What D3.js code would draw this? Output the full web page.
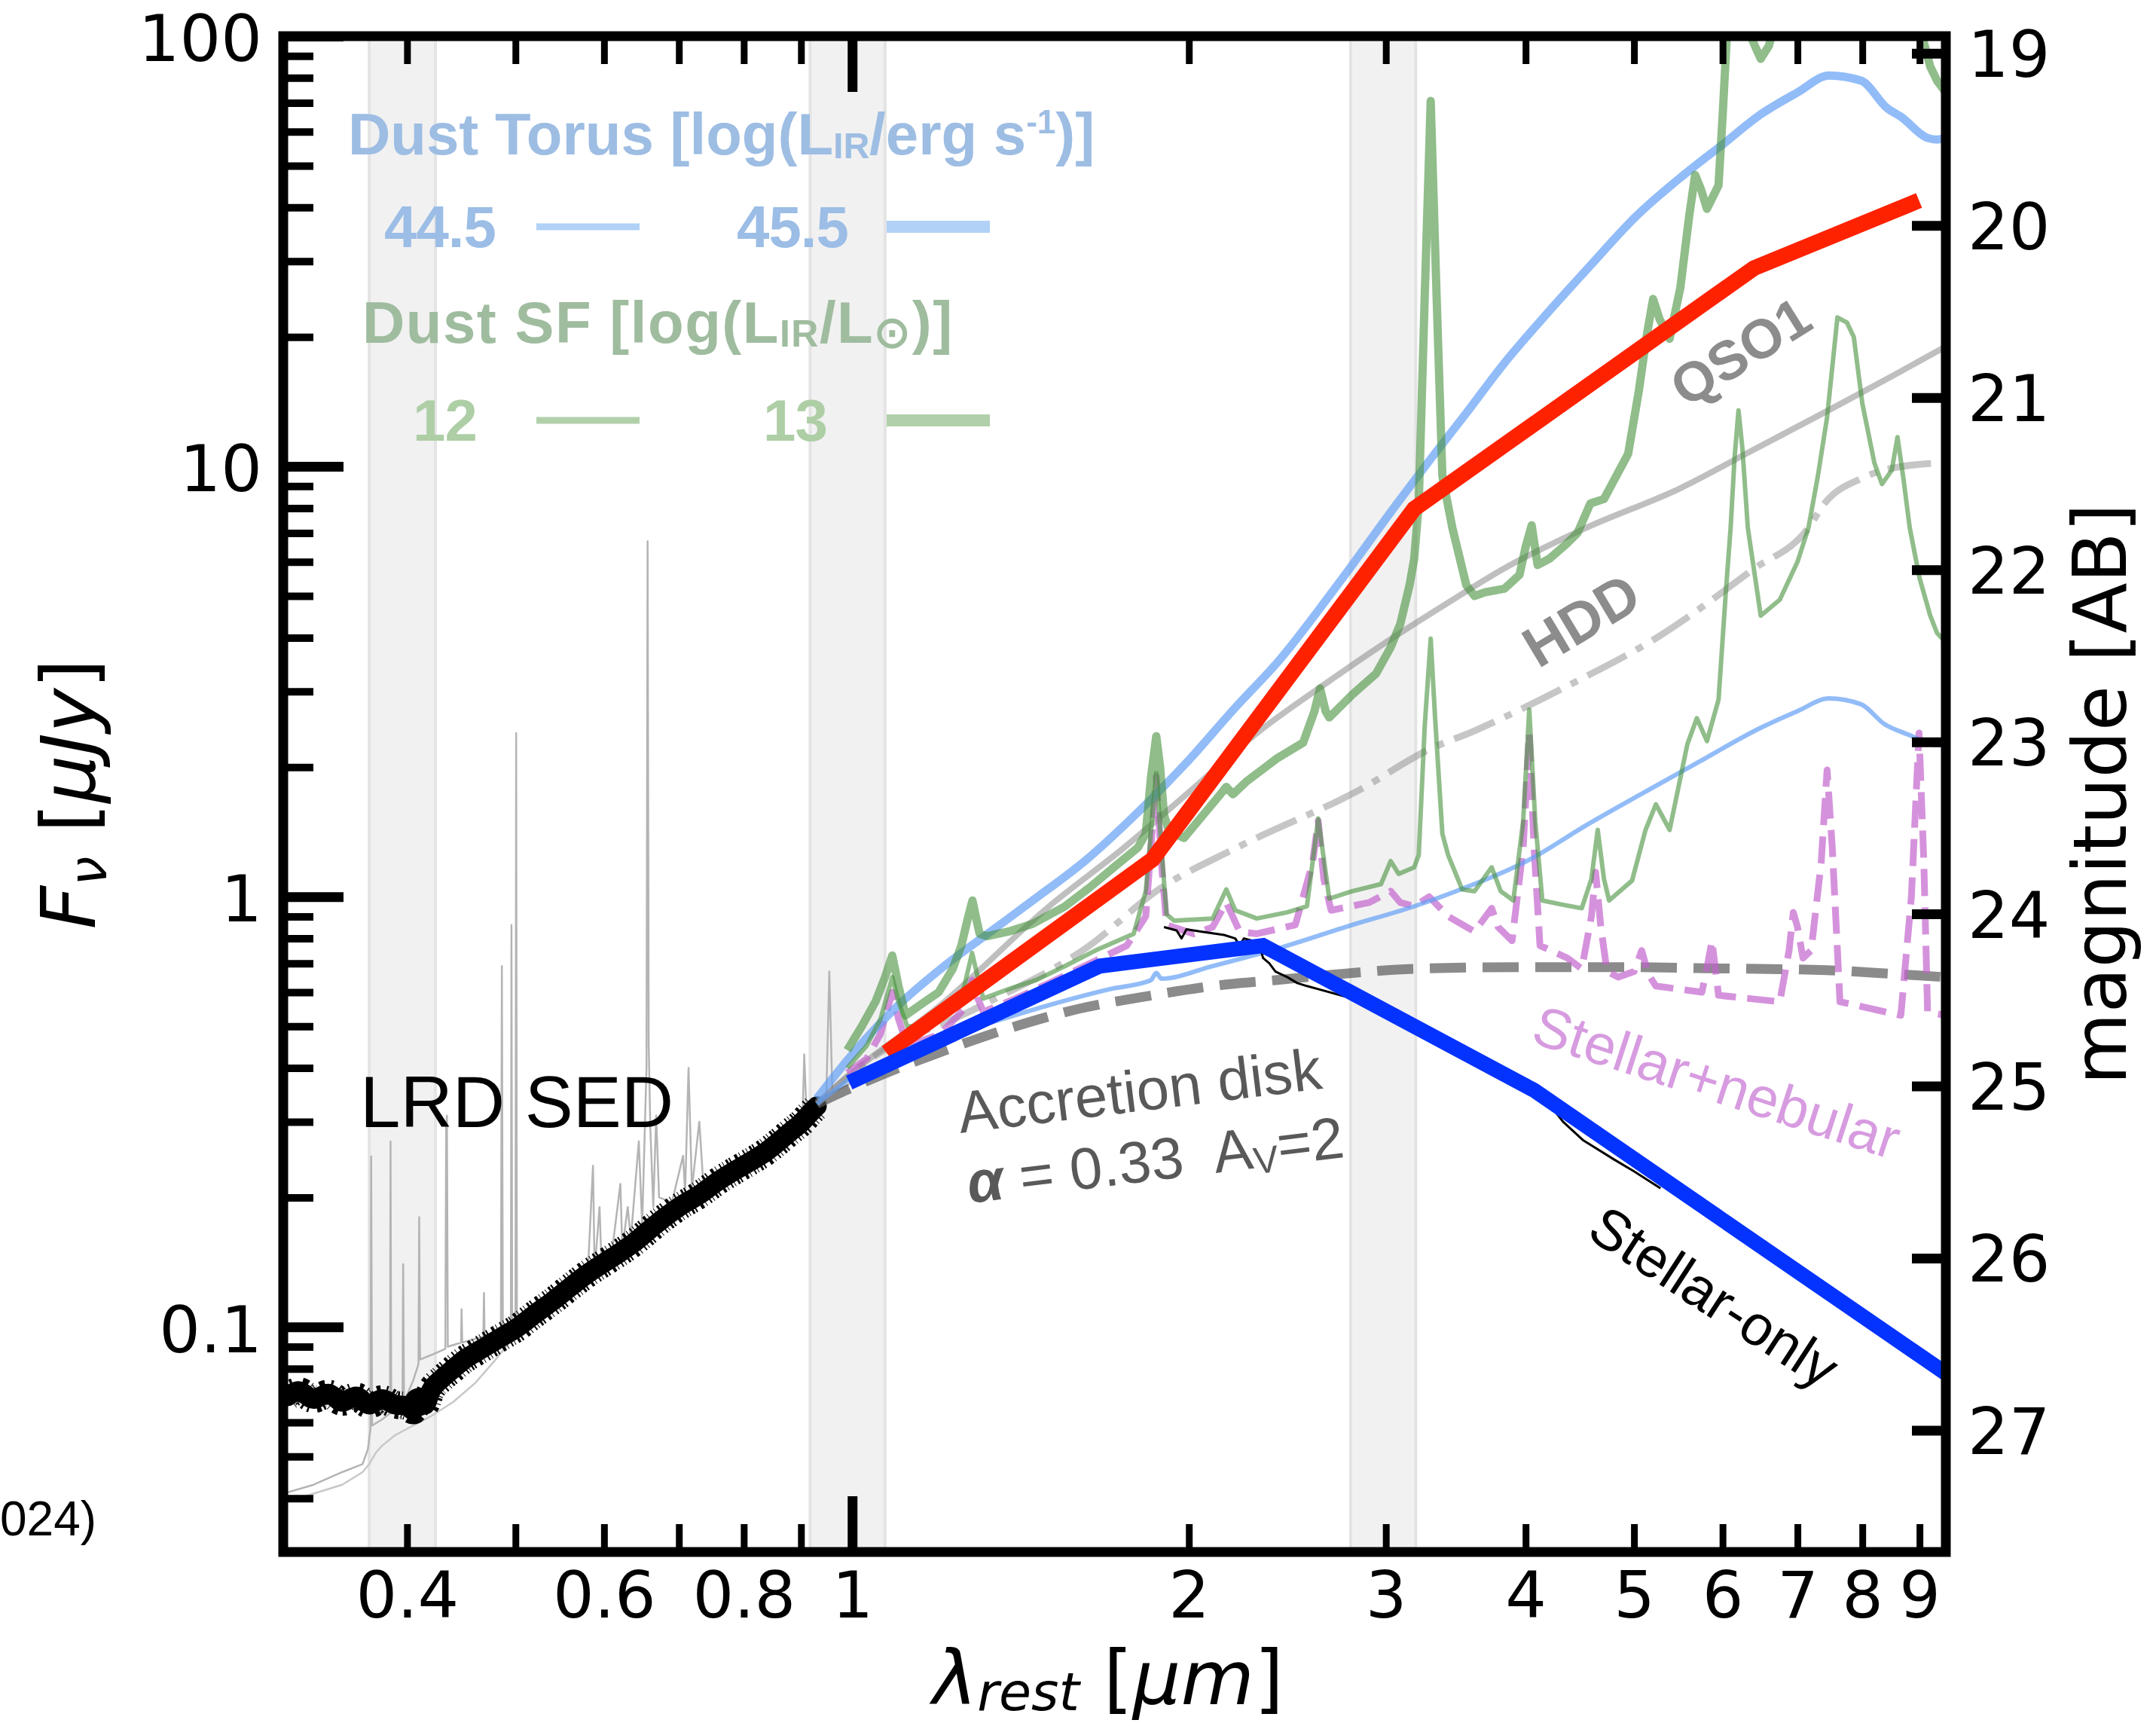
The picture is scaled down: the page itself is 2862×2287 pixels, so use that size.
<!DOCTYPE html>
<html>
<head>
<meta charset="utf-8">
<script src="https://cdn.jsdelivr.net/npm/d3@7"></script>
<style>
  body { margin: 0; background: #fff; }
  svg { display: block; }
</style>
</head>
<body>
<svg id="chart" width="2862" height="2287"></svg>
<script>
// ---------------------------------------------------------------
// Spectral energy distribution of a little red dot (LRD) compared
// with several model templates.  Every series is [lambda_um, Fnu_uJy].
// ---------------------------------------------------------------

// observed LRD spectrum (rest-frame optical)
const lrdSpectrum = [
  [0.313,0.069],[0.32,0.071],[0.33,0.068],[0.34,0.070],[0.35,0.067],[0.36,0.069],
  [0.37,0.066],[0.38,0.068],[0.39,0.066],[0.40,0.0655],[0.405,0.064],[0.41,0.067],
  [0.415,0.066],[0.42,0.071],[0.43,0.076],[0.44,0.080],[0.45,0.084],[0.46,0.087],
  [0.47,0.090],[0.48,0.093],[0.49,0.096],[0.50,0.099],[0.52,0.107],[0.54,0.115],
  [0.56,0.124],[0.58,0.133],[0.60,0.141],[0.62,0.149],[0.64,0.158],[0.66,0.169],
  [0.68,0.180],[0.70,0.190],[0.73,0.203],[0.76,0.219],[0.79,0.233],[0.81,0.242],
  [0.835,0.254],[0.86,0.270],[0.88,0.284],[0.90,0.298],[0.92,0.317],[0.93,0.326]
];

// comparison spectra (thin grey)
const graySpecLines = [
  [0.31,0.041],[0.33,0.043],[0.35,0.046],[0.365,0.048],[0.369,0.052],[0.371,0.058],
  [0.3715,0.249],[0.3722,0.059],[0.38,0.061],[0.3862,0.063],[0.3866,0.27],[0.3872,0.064],
  [0.3962,0.066],[0.3968,0.14],[0.3975,0.067],[0.405,0.075],[0.4095,0.082],[0.4101,0.18],
  [0.4108,0.084],[0.42,0.086],[0.4328,0.089],[0.4335,0.29],[0.4342,0.31],[0.4350,0.09],
  [0.4470,0.092],[0.4475,0.11],[0.4481,0.092],[0.468,0.095],[0.4686,0.12],[0.4692,0.096],
  [0.4852,0.097],[0.4862,0.69],[0.4872,0.098],[0.4953,0.099],[0.4959,0.86],[0.4966,0.100],
  [0.5000,0.100],[0.5007,2.4],[0.5015,0.101],[0.53,0.108],[0.56,0.120],[0.58,0.130],
  [0.5865,0.237],[0.5885,0.135],[0.5945,0.19],[0.597,0.138],[0.61,0.150],[0.6205,0.215],
  [0.623,0.152],[0.630,0.19],[0.634,0.160],[0.6445,0.27],[0.649,0.172],[0.6548,0.40],
  [0.6563,6.7],[0.6578,0.45],[0.6600,0.29],[0.664,0.19],[0.668,0.31],[0.672,0.20],
  [0.69,0.195],[0.706,0.25],[0.709,0.205],[0.714,0.40],[0.719,0.21],[0.730,0.30],
  [0.736,0.215],[0.78,0.235],[0.83,0.26],[0.88,0.29],[0.903,0.31],[0.906,0.43],
  [0.910,0.32],[0.948,0.34],[0.954,0.67],[0.960,0.35],[1.0,0.37],[1.083,0.42]
];
const graySpecSmooth = [
  [0.31,0.039],[0.33,0.041],[0.35,0.043],[0.365,0.046],[0.37,0.048],[0.375,0.051],
  [0.38,0.053],[0.39,0.056],[0.40,0.058],[0.41,0.060],[0.42,0.062],[0.44,0.067],
  [0.46,0.074],[0.48,0.084],[0.50,0.096],[0.55,0.118],[0.60,0.140],[0.70,0.186],
  [0.80,0.236],[0.90,0.300],[0.95,0.335]
];

// observed rest-frame near-IR continuum
const stellarData = [
  [1.90,0.85],[1.95,0.835],[1.97,0.80],[1.99,0.84],[2.05,0.83],[2.15,0.815],
  [2.20,0.80],[2.22,0.77],[2.24,0.80],[2.28,0.79],[2.31,0.78],[2.33,0.72],
  [2.36,0.70],[2.39,0.67],[2.42,0.66],[2.45,0.65],[2.50,0.63],[2.55,0.62],
  [2.61,0.61],[2.80,0.58],[3.00,0.53],[3.50,0.43],[4.00,0.365],[4.20,0.33],
  [4.32,0.300],[4.50,0.272],[4.80,0.245],[5.00,0.230],[5.28,0.210]
];

// accretion disk, alpha = 0.33, Av = 2
const accretionDisk = [
  [0.93,0.33],[0.99,0.356],[1.10,0.40],[1.195,0.434],[1.40,0.50],[1.60,0.55],
  [1.855,0.59],[2.10,0.62],[2.39,0.64],[2.80,0.665],[3.18,0.68],[4.00,0.686],
  [5.00,0.686],[5.80,0.682],[7.43,0.675],[8.50,0.662],[9.50,0.65]
];

// type-1 QSO template
const qso1 = [
  [0.93,0.33],[1.00,0.39],[1.20,0.56],[1.50,0.95],[1.75,1.30],[2.00,1.75],
  [2.30,2.40],[2.66,3.15],[3.00,3.90],[3.40,4.80],[3.83,5.80],[4.53,7.20],
  [5.50,8.90],[6.38,10.9],[7.50,13.6],[8.50,16.2],[9.50,19.0]
];

// hot-dust-deficient QSO template
const hdd = [
  [0.93,0.33],[1.025,0.41],[1.29,0.55],[1.63,0.77],[1.87,1.03],[2.22,1.31],
  [2.84,1.77],[3.28,2.20],[3.60,2.43],[4.36,3.09],[5.28,4.05],[6.38,5.75],
  [7.16,7.20],[7.40,8.20],[8.00,9.40],[8.60,9.96],[9.50,10.2]
];

// stellar + nebular emission
const stellarNebular = [
  [0.99,0.39],[1.03,0.42],[1.06,0.48],[1.086,0.60],[1.10,0.52],[1.12,0.45],
  [1.20,0.48],[1.26,0.55],[1.28,0.64],[1.295,0.58],[1.31,0.54],[1.40,0.58],
  [1.50,0.63],[1.65,0.71],[1.76,0.77],[1.83,0.90],[1.87,1.90],[1.89,1.20],
  [1.91,0.86],[2.02,0.82],[2.10,0.85],[2.16,0.97],[2.22,0.83],[2.30,0.82],
  [2.49,0.86],[2.58,1.20],[2.61,1.50],[2.64,1.10],[2.68,0.93],[2.90,0.97],
  [3.03,1.03],[3.09,0.97],[3.18,0.95],[3.28,1.00],[3.41,0.90],[3.60,0.83],
  [3.73,0.94],[3.78,0.85],[3.89,0.79],[3.98,1.30],[4.03,2.40],[4.07,1.30],
  [4.12,0.77],[4.36,0.72],[4.49,0.68],[4.58,0.90],[4.62,1.14],[4.67,0.85],
  [4.73,0.67],[4.84,0.65],[5.00,0.67],[5.08,0.75],[5.15,0.66],[5.23,0.62],
  [5.75,0.60],[5.82,0.70],[5.87,0.79],[5.92,0.66],[5.95,0.59],[6.75,0.57],
  [6.88,0.75],[6.94,0.92],[7.00,0.85],[7.08,0.72],[7.20,0.75],[7.35,1.20],
  [7.44,1.97],[7.52,1.30],[7.64,0.57],[8.66,0.53],[8.85,1.00],[8.99,2.40],
  [9.08,1.20],[9.15,0.54],[9.50,0.53]
];

// dusty torus, log(L_IR / erg s^-1) = 44.5 and 45.5
const torus445 = [
  [0.93,0.33],[1.00,0.38],[1.10,0.43],[1.20,0.47],[1.33,0.51],[1.50,0.56],
  [1.70,0.61],[1.85,0.64],[1.87,0.665],[1.89,0.645],[2.10,0.69],[2.41,0.76],
  [2.80,0.86],[3.18,0.95],[3.50,1.04],[4.08,1.24],[4.50,1.45],[5.03,1.71],
  [5.70,2.05],[6.49,2.47],[7.00,2.70],[7.47,2.89],[7.98,2.80],[8.37,2.52],
  [8.80,2.38],[9.33,2.25],[9.50,2.25]
];
const torus455 = [
  [0.93,0.34],[1.00,0.43],[1.10,0.56],[1.20,0.68],[1.33,0.83],[1.45,0.98],
  [1.62,1.22],[1.80,1.57],[1.98,2.02],[2.20,2.75],[2.41,3.55],[2.70,5.20],
  [3.07,8.20],[3.28,10.3],[3.54,13.3],[3.83,17.4],[4.08,21.1],[4.57,29.3],
  [5.03,38.3],[5.54,47.6],[6.00,56.0],[6.49,65.8],[7.00,74.0],[7.47,81.0],
  [7.98,78.8],[8.42,68.0],[8.66,65.0],[9.15,58.0],[9.33,57.5],[9.50,58.0]
];

// star-forming dust, log(L_IR / Lsun) = 12 and 13
const dustSF12 = [
  [0.99,0.40],[1.03,0.45],[1.06,0.52],[1.086,0.65],[1.10,0.57],[1.12,0.50],
  [1.16,0.50],[1.20,0.52],[1.25,0.57],[1.28,0.74],[1.295,0.65],[1.31,0.58],
  [1.38,0.61],[1.46,0.64],[1.55,0.69],[1.65,0.75],[1.785,0.82],[1.83,1.03],
  [1.87,1.94],[1.89,1.30],[1.91,0.91],[1.94,0.88],[2.10,0.89],[2.16,1.04],
  [2.20,0.93],[2.30,0.89],[2.45,0.92],[2.55,0.95],[2.61,1.52],[2.67,0.99],
  [2.80,1.03],[2.97,1.07],[3.03,1.21],[3.08,1.13],[3.18,1.17],[3.21,1.25],
  [3.25,2.50],[3.29,3.98],[3.32,2.60],[3.37,1.40],[3.41,1.25],[3.51,1.04],
  [3.60,1.03],[3.73,1.17],[3.80,1.03],[3.90,0.98],[3.98,1.50],[4.03,2.72],
  [4.08,1.50],[4.14,0.98],[4.30,0.96],[4.49,0.94],[4.58,1.10],[4.64,1.43],
  [4.70,1.10],[4.75,0.98],[4.98,1.09],[5.12,1.43],[5.23,1.64],[5.38,1.43],
  [5.58,2.26],[5.69,2.60],[5.81,2.30],[5.95,2.87],[6.04,5.10],[6.10,7.20],
  [6.15,10.5],[6.20,13.5],[6.25,11.0],[6.32,7.20],[6.49,4.50],[6.75,4.90],
  [7.00,6.00],[7.16,7.20],[7.30,9.50],[7.44,13.0],[7.60,22.2],[7.75,21.6],
  [7.86,20.0],[8.00,14.0],[8.20,10.2],[8.33,9.10],[8.50,9.80],[8.60,11.7],
  [8.70,9.50],[8.82,7.20],[9.00,5.50],[9.20,4.50],[9.33,4.10],[9.50,3.90]
];
const dustSF13 = [
  [0.99,0.44],[1.02,0.50],[1.049,0.57],[1.07,0.65],[1.086,0.73],[1.10,0.62],
  [1.116,0.53],[1.15,0.56],[1.195,0.60],[1.23,0.68],[1.252,0.77],[1.27,0.90],
  [1.281,0.98],[1.292,0.88],[1.30,0.82],[1.32,0.81],[1.38,0.83],[1.45,0.865],
  [1.55,0.95],[1.63,1.05],[1.72,1.18],[1.80,1.30],[1.83,1.40],[1.85,1.90],
  [1.87,2.36],[1.885,2.00],[1.90,1.55],[1.92,1.42],[1.98,1.37],[2.06,1.55],
  [2.13,1.72],[2.16,1.80],[2.19,1.73],[2.25,1.85],[2.40,2.10],[2.53,2.28],
  [2.59,2.70],[2.62,3.05],[2.65,2.70],[2.67,2.61],[2.80,2.95],[2.94,3.30],
  [3.03,3.80],[3.09,4.30],[3.15,5.30],[3.18,6.10],[3.21,8.20],[3.25,25.0],
  [3.29,70.7],[3.33,25.0],[3.37,9.50],[3.44,7.20],[3.54,5.30],[3.60,5.00],
  [3.68,5.10],[3.83,5.20],[3.95,5.60],[4.00,6.50],[4.05,7.30],[4.10,5.90],
  [4.20,6.10],[4.35,6.60],[4.45,7.00],[4.57,8.20],[4.70,8.40],[4.94,10.7],
  [5.05,15.0],[5.13,20.0],[5.20,24.5],[5.27,22.0],[5.38,19.8],[5.50,26.0],
  [5.60,38.0],[5.67,47.6],[5.74,44.0],[5.81,39.7],[5.95,45.0],[6.00,65.0],
  [6.05,97.8],[6.12,140],[6.20,160],[6.30,130],[6.38,97.8],[6.49,88.6],
  [6.60,95.0],[6.67,105],[7.00,140],[7.70,250],[8.40,200],[8.80,150],
  [9.07,97.8],[9.20,85.0],[9.33,78.8],[9.50,74.0]
];

// best-fitting composite models (photometric nodes)
const redModel = [[1.073,0.434],[1.855,1.22],[3.18,7.97],[6.40,28.9],[8.99,41.5]];
const stellarOnly = [[0.994,0.37],[1.665,0.69],[2.33,0.77],[4.07,0.355],[9.50,0.078]];

// wavelength windows shaded in grey
const shadedBands = [[0.37,0.424],[0.917,1.07],[2.79,3.19]];

// axis ticks
const xTickValues = [0.4,0.5,0.6,0.7,0.8,0.9,1,2,3,4,5,6,7,8,9];
const xTickLabels = ["0.4","","0.6","","0.8","","1","2","3","4","5","6","7","8","9"];
const xMajorTicks = [1];
const yMajorTicks = [0.1,1,10,100];
const yMinorTicks = [0.04,0.05,0.06,0.07,0.08,0.09,0.2,0.3,0.4,0.5,0.6,0.7,0.8,0.9,
                     2,3,4,5,6,7,8,9,20,30,40,50,60,70,80,90];
const yTickLabels = ["0.1","1","10","100"];
const magTicks = [19,20,21,22,23,24,25,26,27];

// ---------------------------------------------------------------
const svg = d3.select("#chart");
const P = {left: 376, top: 48, right: 2583, bottom: 2060};

const x = d3.scaleLog().domain([0.31, 9.5]).range([P.left, P.right]);
const y = d3.scaleLog().domain([0.03, 100]).range([P.bottom, P.top]);
const abMag = f => 23.9 - 2.5 * Math.log10(f);
const yMag = d3.scaleLinear().domain([abMag(100), abMag(0.03)]).range([P.top, P.bottom]);

svg.append("rect").attr("width", 2862).attr("height", 2287).attr("fill", "#fff");

svg.append("defs").append("clipPath").attr("id", "plotClip")
  .append("rect").attr("x", P.left).attr("y", P.top)
  .attr("width", P.right - P.left).attr("height", P.bottom - P.top);

const plot = svg.append("g").attr("clip-path", "url(#plotClip)");

// shaded windows
const bands = plot.append("g");
shadedBands.forEach(([a, b]) => {
  bands.append("rect").attr("x", x(a)).attr("y", P.top)
    .attr("width", x(b) - x(a)).attr("height", P.bottom - P.top)
    .attr("fill", "#f1f1f1");
  [a, b].forEach(v => bands.append("line")
    .attr("x1", x(v)).attr("x2", x(v)).attr("y1", P.top).attr("y2", P.bottom)
    .attr("stroke", "#e4e4e4").attr("stroke-width", 4));
});

const line = d3.line().x(d => x(d[0])).y(d => y(d[1]));
const smooth = d3.line().x(d => x(d[0])).y(d => y(d[1])).curve(d3.curveMonotoneX);

function draw(data, gen, style) {
  const p = plot.append("path").datum(data).attr("d", gen).attr("fill", "none")
    .attr("stroke-linejoin", "round");
  Object.entries(style).forEach(([k, v]) => p.attr(k, v));
  return p;
}

// comparison spectra
draw(graySpecSmooth, line, {stroke: "#c8c8c8", "stroke-width": 2.5});
draw(graySpecLines, line, {stroke: "#b4b4b4", "stroke-width": 2.5});

// LRD spectrum: solid core plus a ragged edge
draw(lrdSpectrum, smooth, {stroke: "#000", "stroke-width": 26, "stroke-linecap": "round"});
draw(lrdSpectrum, smooth, {stroke: "#000", "stroke-width": 37,
  "stroke-dasharray": "1 4 3 2 2 6 4 3 1 5 2 3"});

// templates
draw(accretionDisk, smooth, {stroke: "rgba(90,90,90,0.7)", "stroke-width": 13, "stroke-dasharray": "48 22"});
draw(qso1, smooth, {stroke: "rgba(128,128,128,0.5)", "stroke-width": 8});
draw(hdd, smooth, {stroke: "rgba(128,128,128,0.45)", "stroke-width": 9, "stroke-dasharray": "58 15 10 15"});
draw(stellarNebular, line, {stroke: "rgba(195,100,205,0.7)", "stroke-width": 9, "stroke-dasharray": "36 15"});
draw(torus445, smooth, {stroke: "rgba(100,160,245,0.7)", "stroke-width": 6});
draw(torus455, smooth, {stroke: "rgba(100,160,245,0.7)", "stroke-width": 11});
draw(dustSF12, line, {stroke: "rgba(70,145,60,0.6)", "stroke-width": 6});
draw(dustSF13, line, {stroke: "rgba(70,145,60,0.6)", "stroke-width": 11});
draw(stellarData, line, {stroke: "#000", "stroke-width": 3});

draw(redModel, line, {stroke: "#ff2200", "stroke-width": 21, "stroke-linejoin": "miter"});
draw(stellarOnly, line, {stroke: "#0433ff", "stroke-width": 20, "stroke-linejoin": "miter"});

// ---------------------------------------------------------------
// axes
const tickFont = "DejaVu Sans";
function styleAxis(g) {
  g.select(".domain").remove();
  g.selectAll("text").attr("font-family", tickFont).attr("font-size", 86).attr("fill", "#000");
  g.selectAll(".tick line").attr("stroke", "#000").attr("stroke-width", 9);
}

const xb = svg.append("g").attr("transform", `translate(0,${P.bottom})`)
  .call(d3.axisBottom(x).tickValues(xTickValues).tickSize(-37).tickPadding(26)
    .tickFormat((d, i) => xTickLabels[i]));
styleAxis(xb);
xb.selectAll(".tick").filter(d => xMajorTicks.includes(d)).select("line")
  .attr("y2", -74).attr("stroke-width", 13);

const xt = svg.append("g").attr("transform", `translate(0,${P.top})`)
  .call(d3.axisTop(x).tickValues(xTickValues).tickSize(-37).tickFormat(""));
styleAxis(xt);
xt.selectAll(".tick").filter(d => xMajorTicks.includes(d)).select("line")
  .attr("y2", 74).attr("stroke-width", 13);

const yl = svg.append("g").attr("transform", `translate(${P.left},0)`)
  .call(d3.axisLeft(y).tickValues(yMajorTicks).tickSize(-80).tickPadding(28)
    .tickFormat((d, i) => yTickLabels[i]));
styleAxis(yl);
yl.selectAll(".tick line").attr("stroke-width", 13);
yl.selectAll(".tick text").attr("dy", "0.38em");
const ylm = svg.append("g").attr("transform", `translate(${P.left},0)`)
  .call(d3.axisLeft(y).tickValues(yMinorTicks).tickSize(-40).tickFormat(""));
styleAxis(ylm);
ylm.selectAll(".tick line").attr("stroke-width", 10);

const yr = svg.append("g").attr("transform", `translate(${P.right},0)`)
  .call(d3.axisRight(yMag).tickValues(magTicks).tickSize(-45).tickPadding(29)
    .tickFormat(d3.format("d")));
styleAxis(yr);
yr.selectAll(".tick line").attr("stroke-width", 13);
yr.selectAll(".tick text").attr("dy", "0.36em");

// frame
svg.append("rect").attr("x", P.left).attr("y", P.top)
  .attr("width", P.right - P.left).attr("height", P.bottom - P.top)
  .attr("fill", "none").attr("stroke", "#000").attr("stroke-width", 13);

// axis titles
const ylab = svg.append("text").attr("transform", "translate(126,1054) rotate(-90)")
  .attr("text-anchor", "middle").attr("font-family", tickFont).attr("font-size", 100);
ylab.append("tspan").attr("font-style", "italic").text("F");
ylab.append("tspan").attr("font-style", "italic").attr("font-size", 70).attr("dy", 15).text("ν");
ylab.append("tspan").attr("dy", -15).text(" [");
ylab.append("tspan").attr("font-style", "italic").text("μJy");
ylab.append("tspan").text("]");

const xlab = svg.append("text").attr("x", 1471).attr("y", 2262)
  .attr("text-anchor", "middle").attr("font-family", tickFont).attr("font-size", 100);
xlab.append("tspan").attr("font-style", "italic").text("λ");
xlab.append("tspan").attr("font-style", "italic").attr("font-size", 70).attr("dy", 8).text("rest");
xlab.append("tspan").attr("dy", -8).text(" [");
xlab.append("tspan").attr("font-style", "italic").text("μm");
xlab.append("tspan").text("]");

svg.append("text").attr("transform", "translate(2822,1054) rotate(-90)")
  .attr("text-anchor", "middle").attr("font-family", tickFont).attr("font-size", 98)
  .text("magnitude [AB]");

// ---------------------------------------------------------------
// legend
const sans = "Liberation Sans, Arial, Helvetica, sans-serif";
const torusText = "#9dbde3", torusLine = "#b1d1f6";
const sfText = "#9fbc9f", sfNum = "#aecea6", sfLine = "#b1d0aa";

const lt = svg.append("text").attr("x", 462).attr("y", 205).attr("font-family", sans)
  .attr("font-weight", "bold").attr("font-size", 78).attr("letter-spacing", 0).attr("fill", torusText);
lt.append("tspan").text("Dust Torus [log(L");
lt.append("tspan").attr("font-size", 48).attr("dy", 5).text("IR");
lt.append("tspan").attr("dy", -5).text("/erg s");
lt.append("tspan").attr("font-size", 44).attr("dy", -28).text("-1");
lt.append("tspan").attr("dy", 28).text(")]");

const legendRow = (yy, items, txtColor, lnColor) => {
  items.forEach(it => {
    svg.append("text").attr("x", it.tx).attr("y", yy).attr("font-family", sans)
      .attr("font-weight", "bold").attr("font-size", 78).attr("letter-spacing", -1)
      .attr("fill", txtColor).text(it.label);
    svg.append("line").attr("x1", it.lx).attr("x2", it.lx + 137)
      .attr("y1", yy - 27).attr("y2", yy - 27)
      .attr("stroke", lnColor).attr("stroke-width", it.w);
  });
};
legendRow(328, [{label: "44.5", tx: 510, lx: 712, w: 9}, {label: "45.5", tx: 978, lx: 1177, w: 16}], "#9bbde6", torusLine);

const ls = svg.append("text").attr("x", 481).attr("y", 455).attr("font-family", sans)
  .attr("font-weight", "bold").attr("font-size", 78).attr("letter-spacing", 1.5).attr("fill", sfText);
ls.append("tspan").text("Dust SF [log(L");
ls.append("tspan").attr("font-size", 50).attr("dy", 5).text("IR");
ls.append("tspan").attr("dy", -5).text("/L");
ls.append("tspan").attr("font-size", 58).attr("dy", 6).text("⊙");
ls.append("tspan").attr("dy", -6).text(")]");

legendRow(585, [{label: "12", tx: 548, lx: 712, w: 9}, {label: "13", tx: 1013, lx: 1177, w: 16}], sfNum, sfLine);

// ---------------------------------------------------------------
// annotations
svg.append("text").attr("x", 478).attr("y", 1496).attr("font-family", sans)
  .attr("font-size", 96).attr("fill", "#000").text("LRD SED");

svg.append("text").attr("transform", "translate(1275,1504) rotate(-7)")
  .attr("font-family", sans).attr("font-size", 78).attr("fill", "#595959").text("Accretion disk");
const ad = svg.append("text").attr("transform", "translate(1287,1597) rotate(-7)")
  .attr("font-family", sans).attr("font-size", 78).attr("fill", "#595959");
ad.append("tspan").attr("font-style", "italic").attr("font-weight", "bold").text("α");
ad.append("tspan").text(" = 0.33");
ad.append("tspan").attr("dx", 40).text("A");
ad.append("tspan").attr("font-size", 50).attr("dy", 8).text("V");
ad.append("tspan").attr("dy", -8).text("=2");

svg.append("text").attr("transform", "translate(2238,542) rotate(-32)")
  .attr("font-family", sans).attr("font-weight", "bold").attr("font-size", 73)
  .attr("fill", "#8c8c8c").text("QSO1");
svg.append("text").attr("transform", "translate(2042,888) rotate(-31)")
  .attr("font-family", sans).attr("font-weight", "bold").attr("font-size", 76)
  .attr("fill", "#8c8c8c").text("HDD");

svg.append("text").attr("transform", "translate(2030,1383) rotate(18)")
  .attr("font-family", sans).attr("font-size", 75).attr("fill", "#d79be0").text("Stellar+nebular");
svg.append("text").attr("transform", "translate(2104,1641) rotate(33)")
  .attr("font-family", sans).attr("font-size", 75).attr("fill", "#000").text("Stellar-only");

svg.append("text").attr("x", 0).attr("y", 2038)
  .attr("font-family", sans).attr("font-size", 64).attr("fill", "#000").text("024)");
</script>
</body>
</html>
